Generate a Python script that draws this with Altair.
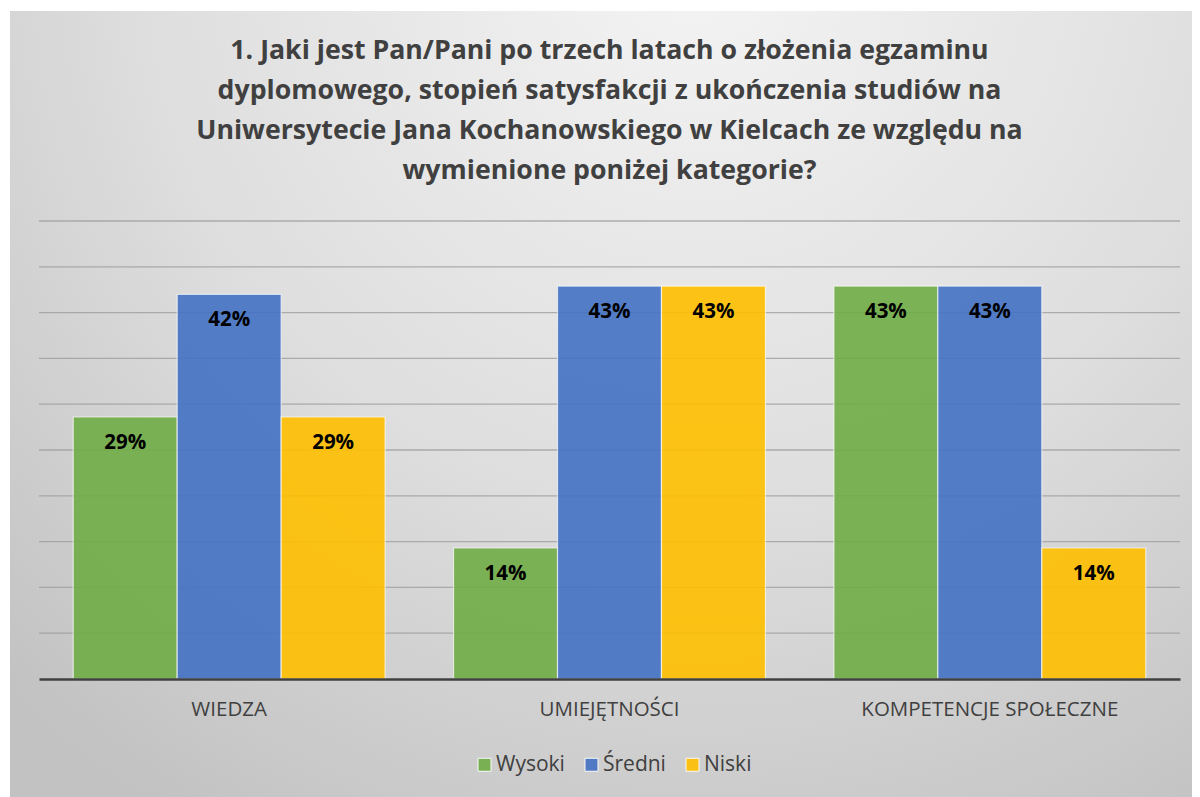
import altair as alt
import pandas as pd

categories = ["WIEDZA", "UMIEJĘTNOŚCI", "KOMPETENCJE SPOŁECZNE"]
series = ["Wysoki", "Średni", "Niski"]
wysoki = [0.286, 0.143, 0.429]
sredni = [0.420, 0.429, 0.429]
niski = [0.286, 0.429, 0.143]
colors = ["#70AD47", "#4472C4", "#FFC000"]
title_lines = [
    "1. Jaki jest Pan/Pani po trzech latach o złożenia egzaminu",
    "dyplomowego, stopień satysfakcji z ukończenia studiów na",
    "Uniwersytecie Jana Kochanowskiego w Kielcach ze względu na",
    "wymienione poniżej kategorie?",
]
grid_values = [0.05 * i for i in range(1, 11)]

rows = []
for s, vals in zip(series, [wysoki, sredni, niski]):
    for c, v in zip(categories, vals):
        rows.append({"kategoria": c, "seria": s, "wartosc": v})
df = pd.DataFrame(rows)
grid_df = pd.DataFrame({"g": grid_values})

W, H = 1141, 458
PL, PT, PR, PB = 31, 213, 12, 120
BG_TOP = PT - 3

bg = alt.Chart(pd.DataFrame({"a": [0]})).mark_rect(
    clip=False,
    fill={
        "gradient": "radial",
        "stops": [
            {"offset": 0, "color": "#f4f4f4"},
            {"offset": 0.55, "color": "#dedede"},
            {"offset": 1, "color": "#c2c2c2"},
        ],
        "x1": 0.58, "y1": 0.12, "r1": 0,
        "x2": 0.58, "y2": 0.12, "r2": 0.85,
    },
).encode(
    x=alt.value(-PL + 2), x2=alt.value(W + PR),
    y=alt.value(-BG_TOP), y2=alt.value(H + PB),
)

y_scale = alt.Scale(domain=[0, 0.5], nice=False)

grid = alt.Chart(grid_df).mark_rule(color="#9a9a9a", strokeWidth=1.3, opacity=0.75).encode(
    y=alt.Y("g:Q", scale=y_scale, title=None, axis=None),
)

x_enc = alt.X(
    "kategoria:N", sort=categories, title=None,
    scale=alt.Scale(paddingInner=0.18, paddingOuter=0.09),
    axis=alt.Axis(
        labelAngle=0, labelFontSize=20.5, labelColor="#404040", labelFont="Open Sans",
        labelPadding=20, ticks=False, domainColor="#404040", domainWidth=2.5,
        labelLimit=400, zindex=1,
    ),
)
xo = alt.XOffset("seria:N", sort=series, scale=alt.Scale(paddingInner=0, paddingOuter=0))

bars = alt.Chart(df).mark_bar(
    opacity=0.9, stroke="white", strokeWidth=1.2, strokeOpacity=0.7
).encode(
    x=x_enc, xOffset=xo,
    y=alt.Y("wartosc:Q", title=None, scale=y_scale, axis=None),
    color=alt.Color(
        "seria:N", sort=series, title=None,
        scale=alt.Scale(domain=series, range=colors),
        legend=alt.Legend(
            orient="none", legendX=435, legendY=H + 75, direction="horizontal",
            symbolType="square",
            symbolSize=169, symbolStrokeColor="white", symbolStrokeWidth=1,
            labelFontSize=21, labelColor="#404040", labelFont="Open Sans",
            labelOffset=1, columnPadding=16, symbolOpacity=0.9, zindex=1,
        ),
    ),
)

labels = alt.Chart(df).mark_text(
    dy=26, fontSize=20.5, fontWeight="bold", color="black", font="Open Sans"
).encode(
    x=alt.X("kategoria:N", sort=categories),
    xOffset=alt.XOffset("seria:N", sort=series),
    y=alt.Y("wartosc:Q", scale=y_scale),
    text=alt.Text("wartosc:Q", format=".0%"),
)

chart = alt.layer(bg, grid, bars, labels).properties(
    width=W, height=H,
    title=alt.TitleParams(
        text=title_lines, fontSize=26.7, fontWeight="bold", color="#404040",
        font="Open Sans", lineHeight=40, anchor="middle", offset=-(BG_TOP - 36), zindex=1,
    ),
    padding={"left": PL, "top": PT, "right": PR, "bottom": PB},
    autosize=alt.AutoSizeParams(type="none"),
    background="white",
).configure_view(stroke=None)

chart.save("out.html", embed_options={"renderer": "svg", "actions": False})
